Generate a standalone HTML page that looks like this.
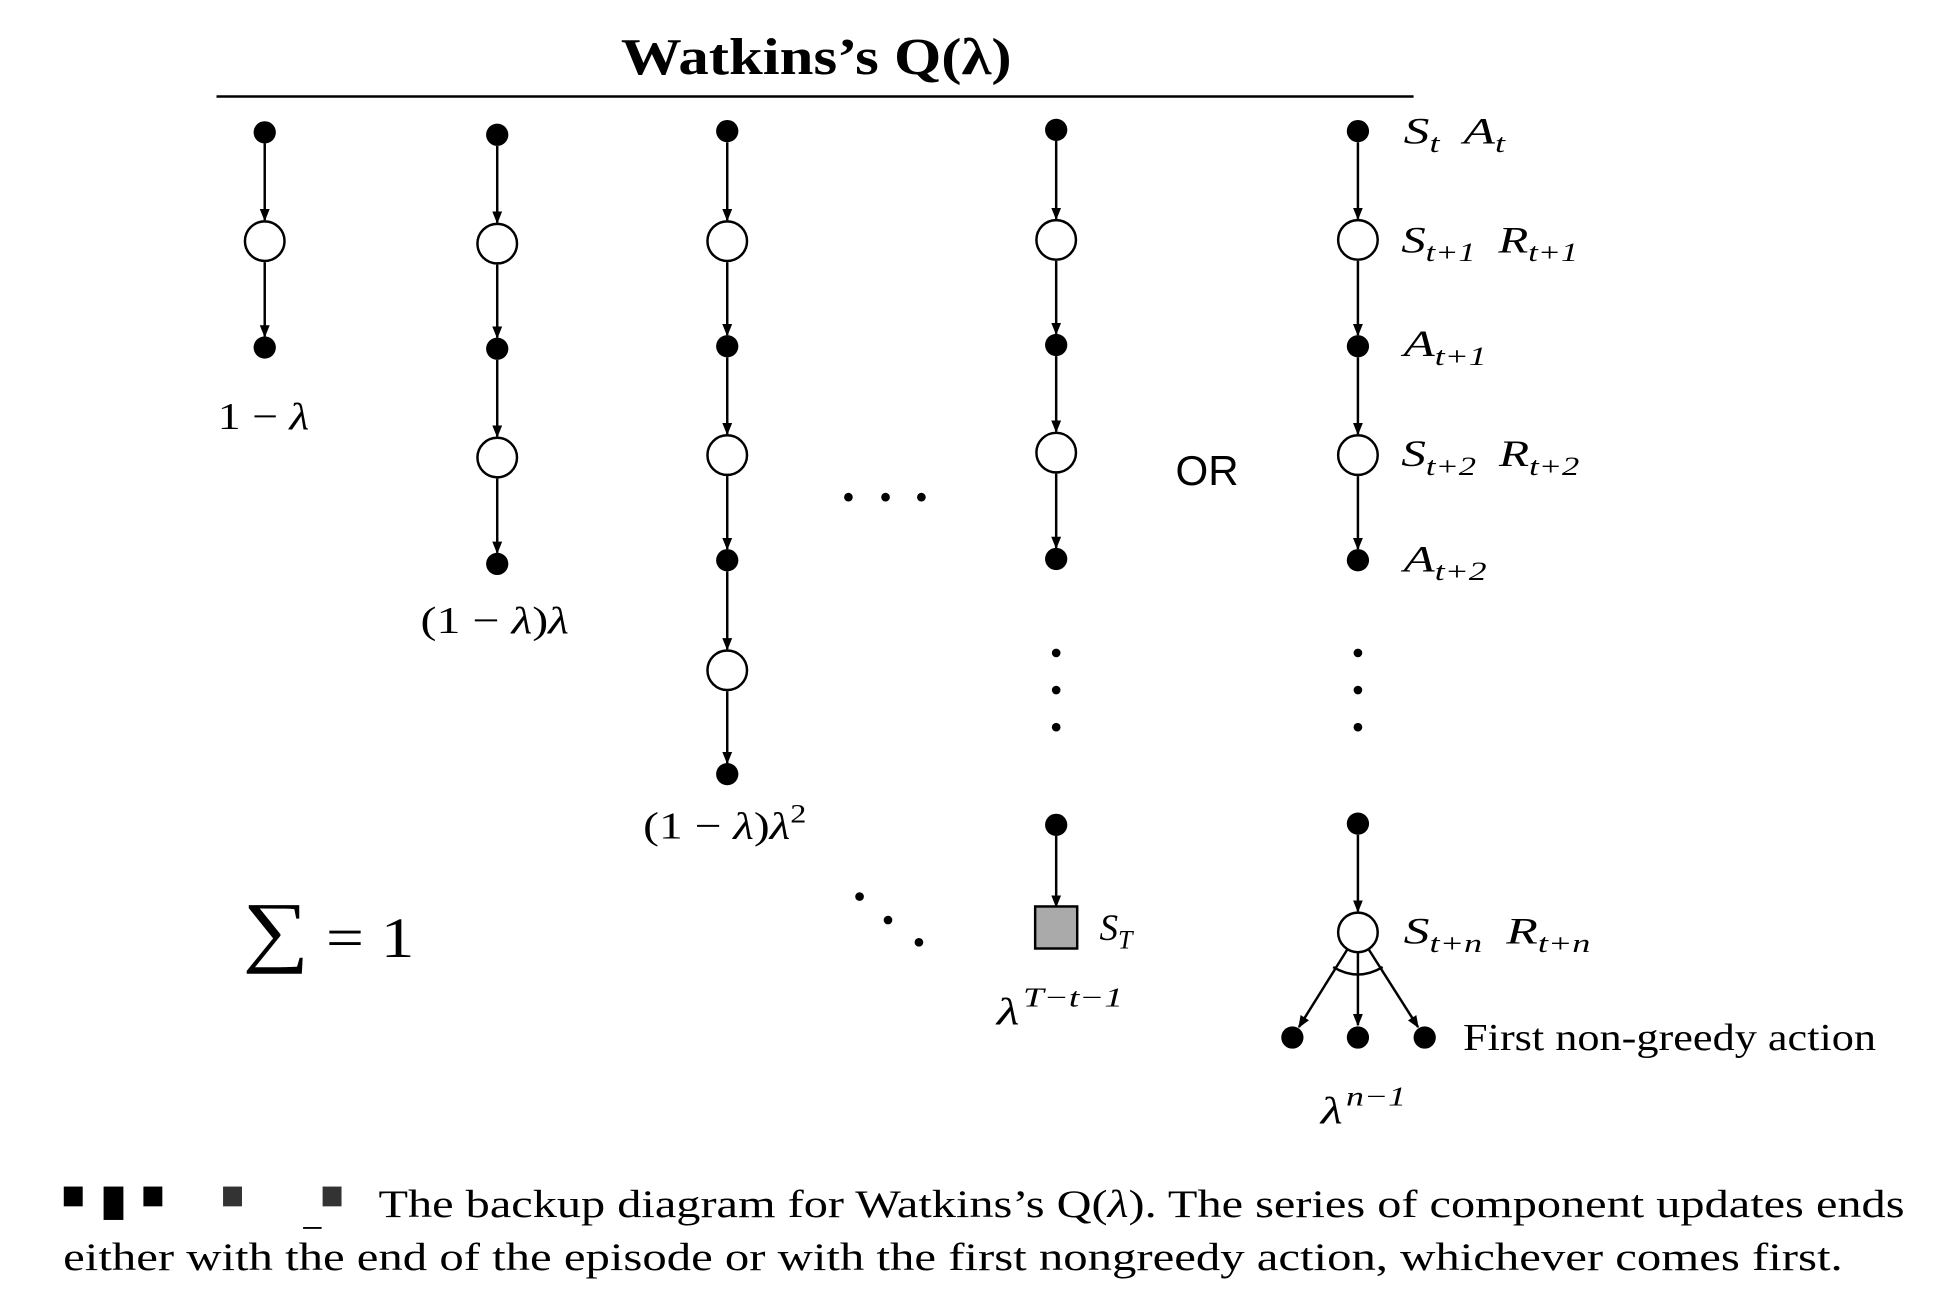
<!DOCTYPE html>
<html><head><meta charset="utf-8"><style>
html,body{margin:0;padding:0;background:#fff;}
svg{display:block;}
.m{font-family:"Liberation Serif",serif;font-style:italic;}
.r{font-family:"Liberation Serif",serif;}
</style></head><body>
<svg id="fig" width="1938" height="1296" viewBox="0 0 1567 1048" xmlns="http://www.w3.org/2000/svg">
<defs><marker id="ah" markerWidth="10" markerHeight="10" refX="9" refY="5" orient="auto" markerUnits="userSpaceOnUse"><path d="M0,1 L10,5 L0,9 Z" fill="#000"/></marker></defs>
<text x="502" y="60" textLength="316" lengthAdjust="spacingAndGlyphs" font-family="Liberation Serif,serif" font-weight="bold" font-size="42">Watkins’s Q(λ)</text>
<line x1="175" y1="78" x2="1143" y2="78" stroke="#000" stroke-width="2"/>
<g id="g"></g>
<text class="r" x="176" y="347" textLength="74" lengthAdjust="spacingAndGlyphs" font-size="31">1 − <tspan class="m">λ</tspan></text>
<text class="r" x="340" y="512" textLength="120" lengthAdjust="spacingAndGlyphs" font-size="31">(1 − <tspan class="m">λ</tspan>)<tspan class="m">λ</tspan></text>
<text class="r" x="520" y="678" textLength="132" lengthAdjust="spacingAndGlyphs" font-size="31">(1 − <tspan class="m">λ</tspan>)<tspan class="m">λ</tspan><tspan font-size="21" dy="-13">2</tspan></text>
<text class="m" x="806" y="828" textLength="102" lengthAdjust="spacingAndGlyphs" font-size="31">λ<tspan font-size="22" dy="-14" dx="2">T−t−1</tspan></text>
<text class="m" x="1068" y="908" textLength="69" lengthAdjust="spacingAndGlyphs" font-size="31">λ<tspan font-size="22" dy="-14" dx="2">n−1</tspan></text>
<text x="976" y="392" text-anchor="middle" font-family="Liberation Sans,sans-serif" font-size="34">OR</text>
<text class="r" x="196" y="774" textLength="139" lengthAdjust="spacingAndGlyphs" font-size="46"><tspan font-size="64">∑</tspan> = 1</text>
<text class="m" x="889" y="760" font-size="30">S<tspan font-size="21" dy="7">T</tspan></text>
<g class="m" font-size="30">
<text x="1135" y="116" textLength="82" lengthAdjust="spacingAndGlyphs">S<tspan font-size="21" dy="7">t</tspan><tspan dy="-7" dx="14">A</tspan><tspan font-size="21" dy="7">t</tspan></text>
<text x="1133" y="204" textLength="143" lengthAdjust="spacingAndGlyphs">S<tspan font-size="21" dy="7">t+1</tspan><tspan dy="-7" dx="14">R</tspan><tspan font-size="21" dy="7">t+1</tspan></text>
<text x="1135" y="288" textLength="67" lengthAdjust="spacingAndGlyphs">A<tspan font-size="21" dy="7">t+1</tspan></text>
<text x="1133" y="377" textLength="144" lengthAdjust="spacingAndGlyphs">S<tspan font-size="21" dy="7">t+2</tspan><tspan dy="-7" dx="14">R</tspan><tspan font-size="21" dy="7">t+2</tspan></text>
<text x="1135" y="462" textLength="67" lengthAdjust="spacingAndGlyphs">A<tspan font-size="21" dy="7">t+2</tspan></text>
<text x="1135" y="763" textLength="151" lengthAdjust="spacingAndGlyphs">S<tspan font-size="21" dy="7">t+n</tspan><tspan dy="-7" dx="14">R</tspan><tspan font-size="21" dy="7">t+n</tspan></text>
</g>
<text class="r" x="1183" y="849" textLength="334" lengthAdjust="spacingAndGlyphs" font-size="31">First non-greedy action</text>
<g>
<rect x="51.5" y="959.5" width="15.3" height="16" fill="#000"/>
<rect x="83.7" y="959.5" width="16" height="27" fill="#000"/>
<rect x="115.9" y="959.5" width="15.3" height="16" fill="#000"/>
<rect x="180.3" y="959.5" width="15.3" height="16" fill="#333"/>
<rect x="260.8" y="959.5" width="15.3" height="16" fill="#333"/>
<line x1="245" y1="993" x2="260" y2="993" stroke="#000" stroke-width="1.5"/>
</g>
<text class="r" x="306" y="984" textLength="1234" lengthAdjust="spacingAndGlyphs" font-size="32">The backup diagram for Watkins’s Q(<tspan class="m">λ</tspan>). The series of component updates ends</text>
<text class="r" x="51" y="1027" textLength="1439" lengthAdjust="spacingAndGlyphs" font-size="32">either with the end of the episode or with the first nongreedy action, whichever comes first.</text>
</svg>
<script>
const colX=[214,402,588,854,1098];
const colNodes=[
 [["d",107],["c",195],["d",281]],
 [["d",109],["c",197],["d",282],["c",370],["d",456]],
 [["d",106],["c",195],["d",280],["c",368],["d",453],["c",542],["d",626]],
 [["d",105],["c",194],["d",279],["c",366],["d",452],["v",528],["v",558],["v",588],["d",667],["s",750]],
 [["d",106],["c",194],["d",280],["c",368],["d",453],["v",528],["v",558],["v",588],["d",666],["c",754]]
];
const branchX=[1045,1098,1152];
const branchY=839;
const hDots=[[686,402],[716,402],[745,402],[695,725],[718,744],[743,762]];
const NS="http://www.w3.org/2000/svg";
const g=document.getElementById('g');
function mk(t,a){const e=document.createElementNS(NS,t);for(const k in a)e.setAttribute(k,a[k]);g.appendChild(e);return e;}
function rad(k){return k==="d"?9:k==="c"?17:k==="s"?17:3;}
colNodes.forEach((nodes,ci)=>{
 const x=colX[ci];
 for(let i=0;i<nodes.length-1;i++){
  const a=nodes[i],b=nodes[i+1];
  if(a[0]==="v"||b[0]==="v")continue;
  const l=mk('line',{x1:x,y1:a[1]+rad(a[0]),x2:x,y2:b[1]-rad(b[0]),stroke:'#000','stroke-width':2,'marker-end':'url(#ah)'});
  
  
 }
 nodes.forEach(n=>{
  let e;
  if(n[0]==="d")e=mk('circle',{cx:x,cy:n[1],r:9,fill:'#000'});
  else if(n[0]==="c")e=mk('circle',{cx:x,cy:n[1],r:16,fill:'#fff',stroke:'#000','stroke-width':2});
  else if(n[0]==="v")e=mk('circle',{cx:x,cy:n[1],r:3.5,fill:'#000'});
  else e=mk('rect',{x:x-17,y:n[1]-17,width:34,height:34,fill:'#aaa',stroke:'#000','stroke-width':2});
  
  
 });
});
const last=colNodes[4][colNodes[4].length-1];
const cx=colX[4],cy=last[1];
branchX.forEach(bx=>{
 const dx=bx-cx,dy=branchY-cy,L=Math.hypot(dx,dy);
 const l=mk('line',{x1:cx+dx/L*16,y1:cy+dy/L*16,x2:bx-dx/L*10,y2:branchY-dy/L*10,stroke:'#000','stroke-width':2,'marker-end':'url(#ah)'});
 
 
 const d=mk('circle',{cx:bx,cy:branchY,r:9,fill:'#000'});
 
 
});
const arc=mk('path',{d:`M${cx-20},${cy+28} Q${cx},${cy+40} ${cx+20},${cy+28}`,fill:'none',stroke:'#000','stroke-width':2});


hDots.forEach(p=>{
 const d=mk('circle',{cx:p[0],cy:p[1],r:3.5,fill:'#000'});
 
 
});
</script>
</body></html>
